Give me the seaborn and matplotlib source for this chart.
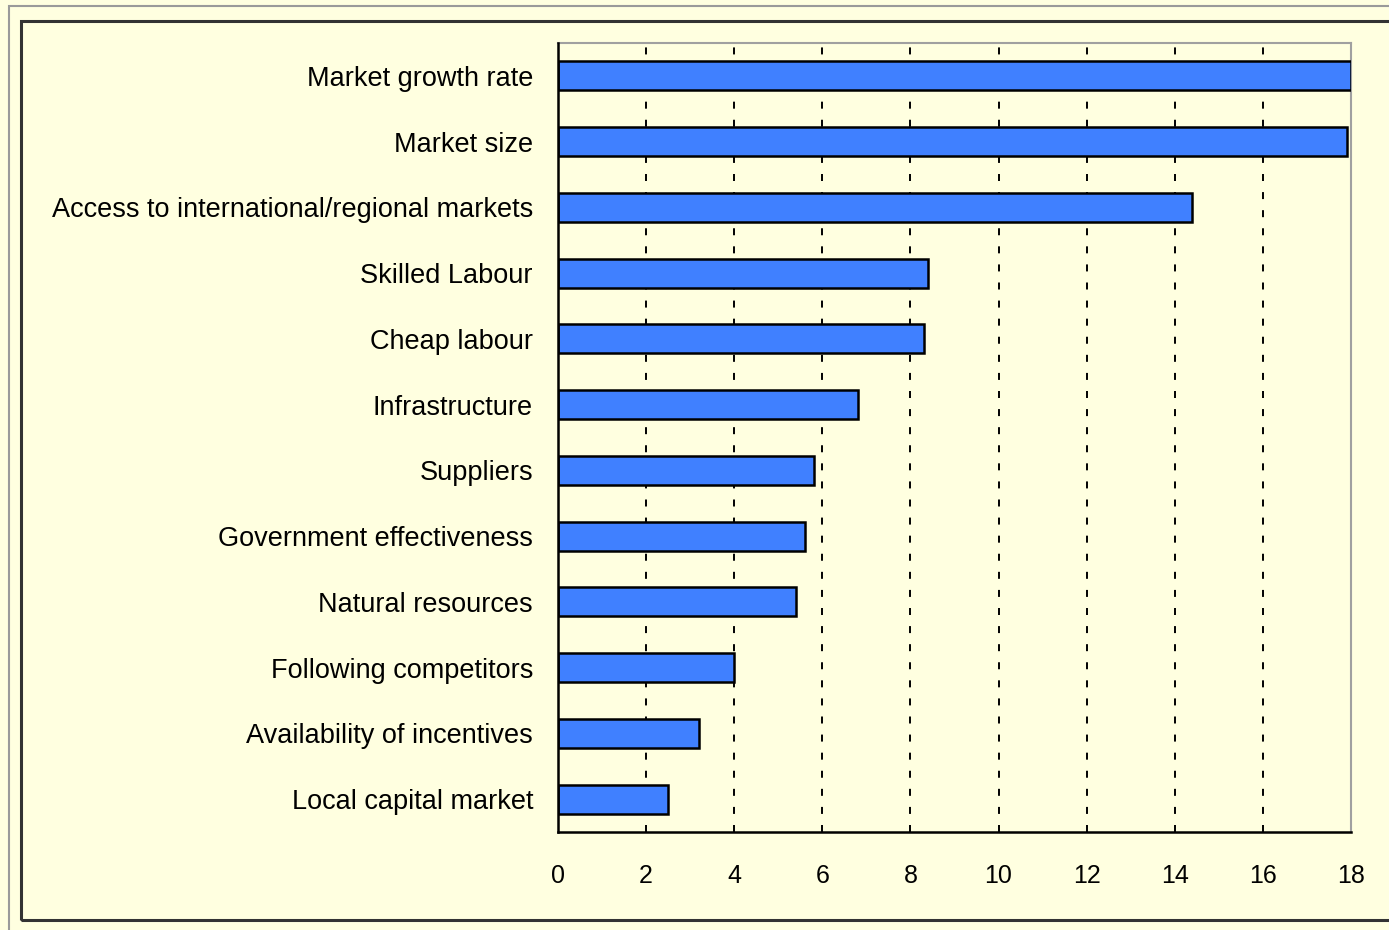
import matplotlib
matplotlib.use("Agg")
import matplotlib.pyplot as plt
import seaborn as sns
import pandas as pd
from matplotlib.patches import Rectangle

categories = [
    "Market growth rate",
    "Market size",
    "Access to international/regional markets",
    "Skilled Labour",
    "Cheap labour",
    "Infrastructure",
    "Suppliers",
    "Government effectiveness",
    "Natural resources",
    "Following competitors",
    "Availability of incentives",
    "Local capital market",
]
values = [18.0, 17.9, 14.4, 8.4, 8.3, 6.8, 5.8, 5.6, 5.4, 4.0, 3.2, 2.5]
x_ticks = [0, 2, 4, 6, 8, 10, 12, 14, 16, 18]

df = pd.DataFrame({"factor": categories, "score": values})

sns.set_theme(style="white")
plt.rcParams["font.family"] = ["Liberation Sans", "DejaVu Sans"]

bg = "#FFFFE0"
fig = plt.figure(figsize=(13.89, 9.30), dpi=100, facecolor=bg)
ax = fig.add_axes([558 / 1389, 1 - 832 / 930, (1351 - 558) / 1389, (832 - 43) / 930])
ax.set_facecolor(bg)

sns.barplot(data=df, x="score", y="factor", ax=ax, color="#4080FF",
            saturation=1, width=0.44, edgecolor="black", linewidth=1.8,
            orient="h", zorder=3)

ax.set_xlim(0, 18)
ax.set_ylim(11.5, -0.5)
ax.set_xticks(x_ticks)
ax.set_xticklabels([str(t) for t in x_ticks])
ax.set_xlabel("")
ax.set_ylabel("")
ax.xaxis.grid(True, color="black", linestyle=(0, (3.6, 5.7)), linewidth=1.4, zorder=1)
ax.yaxis.grid(False)
ax.tick_params(axis="x", length=0, pad=23, labelsize=18, colors="black")
ax.tick_params(axis="y", length=0, pad=18, labelsize=19.5, colors="black")

for side in ["left", "bottom"]:
    ax.spines[side].set_color("black")
    ax.spines[side].set_linewidth(1.8)
for side in ["top", "right"]:
    ax.spines[side].set_color("#A0A0A0")
    ax.spines[side].set_linewidth(1.5)
ax.spines["left"].set_zorder(5)

# outer frames
fig.patches.append(Rectangle((9 / 1389, 1 - 1000 / 930), 1.2, (1000 - 6) / 930,
                             transform=fig.transFigure, fill=False,
                             edgecolor="#9A9A9A", linewidth=1.5))
fig.patches.append(Rectangle((21 / 1389, 1 - 920 / 930), 1.2, (920 - 21) / 930,
                             transform=fig.transFigure, fill=False,
                             edgecolor="#333333", linewidth=2.2))

fig.savefig("out.png", dpi=100, facecolor=bg)
